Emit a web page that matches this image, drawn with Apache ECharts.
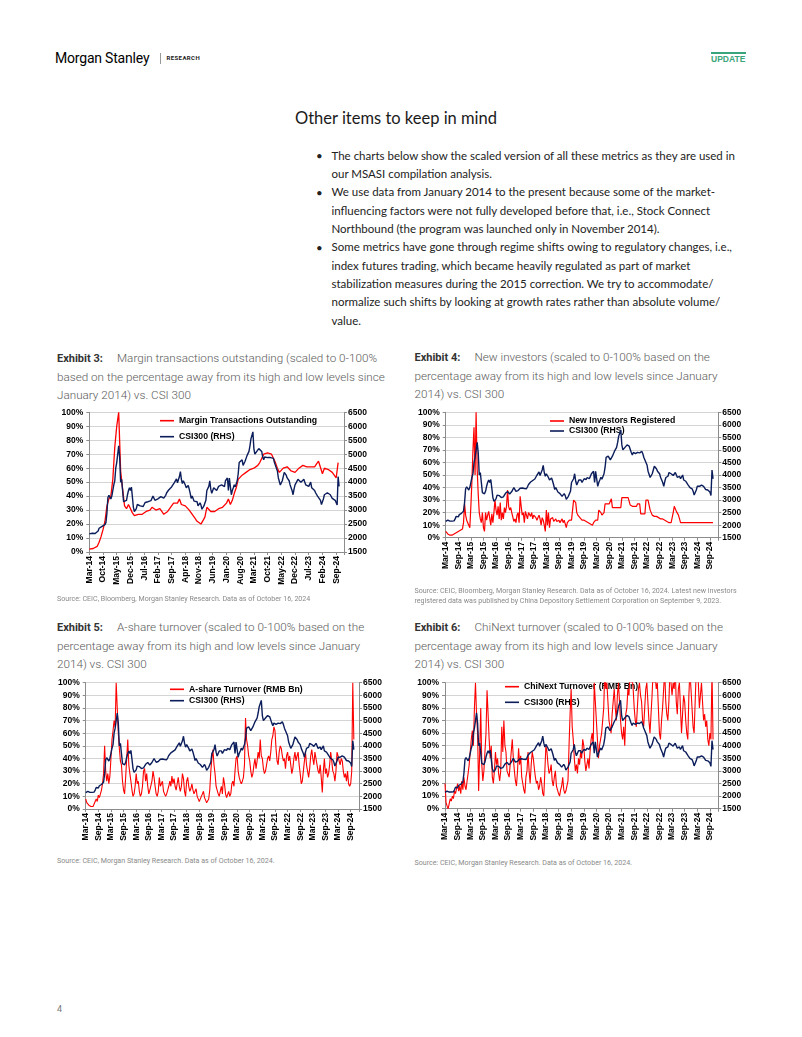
<!DOCTYPE html>
<html><head><meta charset="utf-8">
<script src="https://cdn.jsdelivr.net/npm/echarts/dist/echarts.min.js"></script>
<style>
body{margin:0;background:#fff;}
#page{position:relative;width:802px;height:1037px;overflow:hidden;background:#fff;font-family:Roboto,"Liberation Sans",sans-serif;}
.abs{position:absolute;white-space:nowrap;}
.ttl{font-family:Roboto,sans-serif;font-weight:300;font-size:11.7px;line-height:18px;color:#5a5a5a;}
.ttl b{display:inline-block;width:60px;font-size:11px;font-weight:700;color:#333;}
.src{font-family:Roboto,sans-serif;font-size:7.1px;color:#8a8a8a;}
.bul{font-family:Lato,sans-serif;font-size:11.5px;line-height:18.33px;color:#222;}
.chart{position:absolute;}
</style></head><body>
<div id="page">
  <div class="abs" style="left:55px;top:49px;font-size:14px;line-height:18px;color:#000;letter-spacing:-0.2px;">Morgan Stanley</div>
  <div class="abs" style="left:160px;top:53px;width:1px;height:11px;background:#999;"></div>
  <div class="abs" style="left:166.5px;top:54px;font-size:6px;line-height:8px;font-weight:700;letter-spacing:0.4px;color:#222;">RESEARCH</div>
  <div class="abs" style="left:711px;top:52px;width:35px;height:2px;background:#3aa57b;"></div>
  <div class="abs" style="left:711px;top:54px;font-family:'Liberation Sans',Arial;font-size:8.5px;line-height:10px;font-weight:700;color:#3aa57b;">UPDATE</div>

  <div class="abs" style="left:295px;top:108px;font-family:Lato,sans-serif;font-size:16.5px;line-height:20px;color:#1a1a1a;">Other items to keep in mind</div>

  <div class="abs bul" style="left:316px;top:146.8px;">•</div>
  <div class="abs bul" style="left:316px;top:183.5px;">•</div>
  <div class="abs bul" style="left:316px;top:238.5px;">•</div>
  <div class="abs bul" style="left:331.5px;top:146.8px;">The charts below show the scaled version of all these metrics as they are used in<br>our MSASI compilation analysis.<br>We use data from January 2014 to the present because some of the market-<br>influencing factors were not fully developed before that, i.e., Stock Connect<br>Northbound (the program was launched only in November 2014).<br>Some metrics have gone through regime shifts owing to regulatory changes, i.e.,<br>index futures trading, which became heavily regulated as part of market<br>stabilization measures during the 2015 correction. We try to accommodate/<br>normalize such shifts by looking at growth rates rather than absolute volume/<br>value.</div>

  <div class="abs ttl" style="left:57px;top:348.5px;"><b>Exhibit 3:</b>Margin transactions outstanding (scaled to 0-100%<br>based on the percentage away from its high and low levels since<br>January 2014) vs. CSI 300</div>
  <div class="abs ttl" style="left:414.5px;top:348px;"><b>Exhibit 4:</b>New investors (scaled to 0-100% based on the<br>percentage away from its high and low levels since January<br>2014) vs. CSI 300</div>
  <div class="abs ttl" style="left:57px;top:617.7px;"><b>Exhibit 5:</b>A-share turnover (scaled to 0-100% based on the<br>percentage away from its high and low levels since January<br>2014) vs. CSI 300</div>
  <div class="abs ttl" style="left:414.5px;top:617.7px;"><b>Exhibit 6:</b>ChiNext turnover (scaled to 0-100% based on the<br>percentage away from its high and low levels since January<br>2014) vs. CSI 300</div>

  <div id="c3" class="chart" style="left:40px;top:400px;width:345px;height:200px;"></div>
  <div id="c4" class="chart" style="left:400px;top:400px;width:360px;height:185px;"></div>
  <div id="c5" class="chart" style="left:40px;top:670px;width:345px;height:185px;"></div>
  <div id="c6" class="chart" style="left:400px;top:670px;width:360px;height:185px;"></div>

  <div class="abs src" style="left:57px;top:595.3px;line-height:8px;">Source: CEIC, Bloomberg, Morgan Stanley Research. Data as of October 16, 2024</div>
  <div class="abs src" style="left:414.5px;top:585.7px;line-height:10px;">Source: CEIC, Bloomberg, Morgan Stanley Research. Data as of October 16, 2024. Latest new investors<br>registered data was published by China Depository Settlement Corporation on September 9, 2023.</div>
  <div class="abs src" style="left:57px;top:856.7px;line-height:8px;">Source: CEIC, Morgan Stanley Research. Data as of October 16, 2024.</div>
  <div class="abs src" style="left:414.5px;top:859.3px;line-height:8px;">Source: CEIC, Morgan Stanley Research. Data as of October 16, 2024.</div>

  <div class="abs" style="left:57px;top:1003px;font-size:9px;line-height:12px;color:#777;">4</div>
</div>
<script>
// Month labels: series start Mar-14, one step = one month
const MONTHS = ['Jan','Feb','Mar','Apr','May','Jun','Jul','Aug','Sep','Oct','Nov','Dec'];
const START_MONTH = 2, START_YEAR = 14;

// CSI300 index level, two readings per month (Mar-14 .. Oct-24)
const csi300 = [
2150,2180, 2200,2170, 2160,2150, 2160,2150, 2170,2250, 2350,2370, 2330,2420, 2450,2470, 2480,2560, 2900,3450,
3530,3530, 3400,3500, 3560,3900, 4050,4500, 4700,4650, 5300,4900, 4000,4100, 4100,3300, 3370,3250, 3350,3550, 3700,3800, 3700,3820,
3470,3100, 2950,2950, 3050,3200, 3240,3180, 3150,3100, 3160,3130, 3200,3270, 3200,3340, 3300,3240, 3280,3340, 3380,3500, 3530,3350,
3340,3380, 3400,3470, 3450,3480, 3500,3460, 3430,3450, 3530,3620, 3670,3720, 3740,3780, 3830,3840, 3860,3990, 4050,4120, 3980,4020,
4200,4380, 4100,3950, 4050,4000, 3900,3800, 3770,3880, 3750,3600, 3420,3500, 3450,3320, 3320,3260, 3300,3150, 3200,3260, 3180,3030,
3000,3150, 3200,3350, 3700,3720, 3850,4050, 3750,3600, 3650,3800, 3840,3800, 3700,3750, 3850,3900, 3820,3900, 3950,3850, 3840,4050,
4100,4150, 3700,4150, 4200,3550, 3700,3800, 3910,3830, 3880,4050, 4300,4700, 4700,4750, 4800,4600, 4600,4750, 4700,4950, 4950,5100,
5300,5550, 5600,5800, 5200,5000, 4950,5100, 5100,5200, 5250,5150, 5100,4900, 4800,4900, 4880,4850, 4880,4900, 4900,4880, 4950,4950,
4850,4700, 4600,4600, 4400,4150, 4200,3900, 3900,4050, 4200,4350, 4400,4250, 4150,4100, 4050,3900, 3800,3700, 3550,3750, 3900,3900,
3950,4100, 4150,4050, 4000,3980, 4050,4100, 4000,3900, 3850,3950, 3850,3850, 4000,3800, 3750,3750, 3700,3620, 3550,3500, 3450,3450,
3350,3200, 3220,3400, 3550,3580, 3550,3620, 3600,3650, 3550,3500, 3420,3430, 3400,3350, 3320,3180, 4200,3850
];

// Margin transactions outstanding, scaled %, one reading per month
const marginPct = [
2,2.5,2.5,3,4,7,11,16,22,33,
38,40,52,75,90,100,58,45,33,31,34,33,
28,26,27,27,26,27,28,29,29,30,32,31,
30,31,31,29,27,28,29,31,33,35,36,35,
38,34,34,33,33,30,28,26,24,22,21,20,
19,25,32,31,29,29,29,30,31,31,32,33,
35,38,34,37,42,46,52,53,55,56,57,58,
59,60,60,61,62,64,67,70,71,71,70,70,
69,64,60,57,56,60,61,61,60,58,57,57,
58,60,60,62,61,61,62,61,60,61,63,65,
65,56,60,60,59,59,57,55,53,64
];

// New investors registered, scaled %, two readings per month
const newInvPct = [
5,4, 3,3, 2,2, 2,3, 3,3, 4,4, 5,5, 6,6, 7,12, 27,18,
14,12, 10,8, 25,45, 70,88, 50,100, 55,35, 20,15, 12,20, 8,5, 20,14, 18,21, 20,10,
19,12, 20,30, 22,18, 25,15, 28,14, 20,15, 24,20, 25,38, 25,22, 24,20, 20,13, 15,12,
18,20, 12,33, 25,18, 20,12, 21,18, 15,20, 19,17, 20,15, 18,17, 16,14, 15,18, 15,10,
16,14, 10,5, 22,10, 20,8, 15,14, 16,13, 14,15, 13,14, 14,12, 13,15, 12,14, 13,8,
12,13, 14,15, 14,14, 30,29, 28,20, 18,17, 16,15, 14,15, 14,13, 13,12, 12,12, 11,11,
10,12, 13,14, 13,14, 22,22, 20,18, 18,20, 27,27, 27,27, 27,27, 31,24, 24,24, 24,24,
24,24, 24,24, 32,32, 32,32, 32,32, 32,32, 26,26, 25,25, 25,25, 25,27, 27,27, 19,19,
19,19, 19,30, 30,30, 30,22, 22,18, 18,17, 17,17, 16,16, 16,15, 15,15, 14,14, 14,13,
13,12, 12,12, 12,20, 25,25, 21,21, 18,15, 12,12, 12,12, 12,12, 12,12, 12,12, 12,12,
12,12, 12,12, 12,12, 12,12, 12,12, 12,12, 12,12, 12,12, 12,12, 12,12
];

// A-share turnover, scaled %, two readings per month
const aShareTurnoverPct = [
8,5, 4,3, 2,2, 3,2, 4,6, 8,6, 11,9, 12,15, 20,28, 50,30,
22,28, 20,26, 40,55, 62,70, 65,100, 80,60, 48,38, 35,22, 15,12, 25,40, 55,35, 28,22,
15,10, 12,18, 28,20, 22,14, 10,12, 18,30, 32,22, 28,18, 12,15, 14,22, 30,25, 18,12,
10,14, 25,18, 20,22, 14,12, 10,12, 15,18, 22,18, 26,20, 24,18, 15,20, 25,18, 14,18,
28,24, 14,10, 22,25, 18,14, 16,20, 15,12, 14,16, 10,8, 6,8, 10,12, 14,9, 7,5,
6,8, 15,30, 40,47, 35,28, 18,15, 12,10, 14,18, 12,25, 20,12, 9,8, 14,10, 12,20,
22,18, 30,40, 42,30, 25,22, 20,22, 25,35, 72,55, 50,42, 38,30, 25,28, 35,40, 32,38,
45,40, 55,42, 40,32, 28,30, 35,40, 42,38, 45,55, 58,65, 62,48, 38,35, 45,50, 48,42,
38,40, 32,42, 45,38, 42,35, 28,32, 40,45, 38,42, 45,35, 28,20, 22,30, 38,45, 35,30,
25,32, 42,47, 40,35, 45,40, 35,30, 28,35, 25,13, 30,40, 28,32, 25,28, 35,45, 38,30,
28,22, 30,45, 42,38, 35,40, 38,30, 25,28, 22,30, 20,18, 20,30, 100,55
];

// ChiNext turnover, scaled % (values above 100 are cut off by the axis), two readings per month
const chiNextTurnoverPct = [
20,5, 2,0, 4,8, 6,10, 8,14, 12,16, 20,14, 18,12, 22,15, 25,18,
15,22, 28,35, 45,55, 62,50, 80,100, 75,60, 14,45, 80,35, 22,30, 45,60, 94,75, 55,40,
50,25, 20,30, 45,35, 40,28, 22,30, 65,45, 70,50, 45,30, 30,25, 35,45, 55,40, 30,22,
18,30, 48,35, 42,25, 20,15, 12,25, 30,45, 30,20, 35,45, 40,32, 25,20, 22,15, 18,25,
20,12, 10,30, 50,45, 35,28, 30,35, 22,18, 25,30, 18,15, 12,10, 15,18, 25,15, 12,14,
15,22, 50,75, 95,65, 55,40, 30,35, 28,40, 35,45, 40,55, 50,38, 30,35, 40,32, 45,55,
60,50, 100,85, 70,55, 40,50, 55,60, 70,80, 110,95, 100,85, 70,65, 60,75, 85,95, 80,70,
90,100, 85,70, 60,55, 65,50, 75,80, 95,90, 110,100, 105,95, 80,70, 65,80, 95,100, 90,85,
70,65, 80,95, 100,85, 70,60, 75,90, 110,100, 105,95, 100,80, 60,55, 70,80, 95,110, 85,75,
70,85, 110,100, 90,100, 95,110, 85,75, 95,100, 80,60, 75,90, 85,70, 60,55, 90,110, 95,80,
65,60, 85,110, 105,100, 80,90, 100,85, 70,75, 65,70, 55,50, 60,55, 110,55
];

const RED = '#ff0000', NAVY = '#0b1d5b', AXIS = '#8c8c8c', GRIDC = '#d4d4d4';
const LBL = {fontFamily:'Liberation Sans, Arial', fontWeight:'bold', fontSize:8.5, color:'#000'};

function monthLabel(v, step) {
  if (Math.abs(v % step) > 1e-9) return '';
  const k = START_MONTH + v;
  return MONTHS[k % 12] + '-' + (START_YEAR + Math.floor(k / 12));
}
function halfMonthly(arr) { return arr.map((v, i) => [i / 2, v]); }
function monthly(arr) { return arr.map((v, i) => [i, v]); }

function build(id, cfg) {
  const chart = echarts.init(document.getElementById(id), null, {renderer: 'canvas'});
  chart.setOption({
    animation: false,
    grid: {left: cfg.grid[0], top: cfg.grid[1], width: cfg.grid[2], height: cfg.grid[3]},
    legend: {
      orient: 'vertical', left: cfg.legend[0], top: cfg.legend[1], itemGap: cfg.legend[2],
      padding: 0, z: 1, itemWidth: 14, itemHeight: 1.6, icon: 'rect',
      data: [cfg.redName, 'CSI300 (RHS)'],
      textStyle: {fontFamily: 'Liberation Sans, Arial', fontWeight: 'bold', fontSize: 8.7, lineHeight: 9, color: '#000'}
    },
    xAxis: {
      type: 'value', min: 0, max: 130, interval: cfg.xStep,
      axisLine: {show: true, lineStyle: {color: AXIS}},
      axisTick: {show: true, length: 3, lineStyle: {color: AXIS}},
      splitLine: {show: false},
      axisLabel: Object.assign({}, LBL, {rotate: 90, margin: 4, formatter: v => monthLabel(v, cfg.xStep)})
    },
    yAxis: [
      {type: 'value', min: 0, max: 100, interval: 10, position: 'left',
       axisLine: {show: true, lineStyle: {color: AXIS}},
       axisTick: {show: true, length: 3, lineStyle: {color: AXIS}},
       splitLine: {show: true, lineStyle: {color: GRIDC, width: 1}},
       axisLabel: Object.assign({}, LBL, {margin: 6, formatter: '{value}%'})},
      {type: 'value', min: 1500, max: 6500, interval: 500, position: 'right',
       axisLine: {show: true, lineStyle: {color: AXIS}},
       axisTick: {show: true, length: 3, lineStyle: {color: AXIS}},
       splitLine: {show: false},
       axisLabel: Object.assign({}, LBL, {margin: 4, formatter: v => String(v)})}
    ],
    series: [
      {name: cfg.redName, type: 'line', yAxisIndex: 0, data: cfg.redData, symbol: 'none',
       lineStyle: {color: RED, width: cfg.redWidth}, itemStyle: {color: RED}, clip: true, z: 2},
      {name: 'CSI300 (RHS)', type: 'line', yAxisIndex: 1, data: halfMonthly(csi300), symbol: 'none',
       lineStyle: {color: NAVY, width: 1.4}, itemStyle: {color: NAVY}, clip: true, z: 3}
    ]
  });
}

build('c3', {grid: [49.3, 12.3, 254.7, 139.7], legend: [120, 16.2, 7], xStep: 7,
  redName: 'Margin Transactions Outstanding', redData: monthly(marginPct), redWidth: 1.3});
build('c4', {grid: [45.7, 12.3, 272.6, 125.4], legend: [150, 16.5, 1], xStep: 6,
  redName: 'New Investors Registered', redData: halfMonthly(newInvPct), redWidth: 1.2});
build('c5', {grid: [45.7, 12.7, 274.3, 126.3], legend: [130, 14.8, 2.4], xStep: 6,
  redName: 'A-share Turnover (RMB Bn)', redData: halfMonthly(aShareTurnoverPct), redWidth: 1.1});
build('c6', {grid: [45, 12.7, 273.3, 126], legend: [105, 12.2, 6.6], xStep: 6,
  redName: 'ChiNext Turnover (RMB Bn)', redData: halfMonthly(chiNextTurnoverPct), redWidth: 1.1});
</script>
</body></html>
